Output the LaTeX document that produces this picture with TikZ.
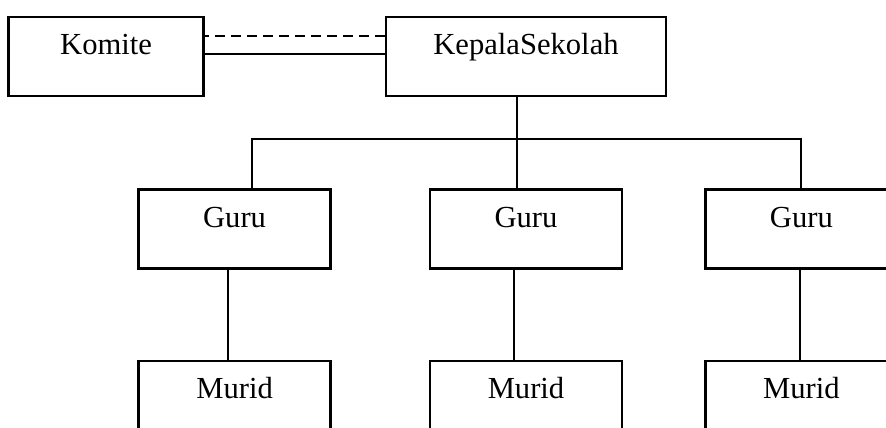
\documentclass[tikz,border=0pt]{standalone}
\usepackage{fontspec}
\setmainfont{Liberation Serif}
\usetikzlibrary{positioning}

\begin{document}
\begin{tikzpicture}[
    box/.style={draw, rectangle, line width=1.2pt, inner xsep=0pt, inner ysep=0pt, minimum width=96pt, text height=19pt, text depth=20.5pt, font=\fontsize{15.3}{18}\selectfont},
    link/.style={line width=1pt}]

    \useasboundingbox (-263pt,28.25pt) rectangle (180pt,-185.25pt);
    \clip (-263pt,28.25pt) rectangle (180pt,-185.25pt);

    \node[box, minimum width=140pt] (kepala) at (0,0) {KepalaSekolah};
    \node[box, minimum width=97.5pt, left=90pt of kepala] (komite) {Komite};

    \node[box, below=45.5pt of kepala] (guru2) {Guru};
    \node[box, left=48.5pt of guru2] (guru1) {Guru};
    \node[box, right=40.5pt of guru2] (guru3) {Guru};
    \foreach \i in {1,2,3}
        \node[box, below=45pt of guru\i] (murid\i) {Murid};

    \coordinate (dashA) at ([yshift=-10pt]kepala.north west);
    \coordinate (lineA) at ([yshift=-19pt]kepala.north west);
    \draw[link, dash pattern=on 5pt off 3pt] (dashA) -- (dashA -| komite.east);
    \draw[link] (lineA) -- (lineA -| komite.east);

    \coordinate (bus) at ([xshift=-4.5pt,yshift=-21pt]kepala.south);
    \draw[link] (bus |- kepala.south) -- (bus);
    \draw[link] ([xshift=8.5pt]guru1.north) |- (bus) -| (guru3.north);
    \draw[link] (bus) -- (bus |- guru2.north);

    \foreach \i/\s in {1/-3.5pt, 2/-6pt, 3/-0.5pt}
        \draw[link] ([xshift=\s]guru\i.south) -- ([xshift=\s]murid\i.north);
\end{tikzpicture}
\end{document}
